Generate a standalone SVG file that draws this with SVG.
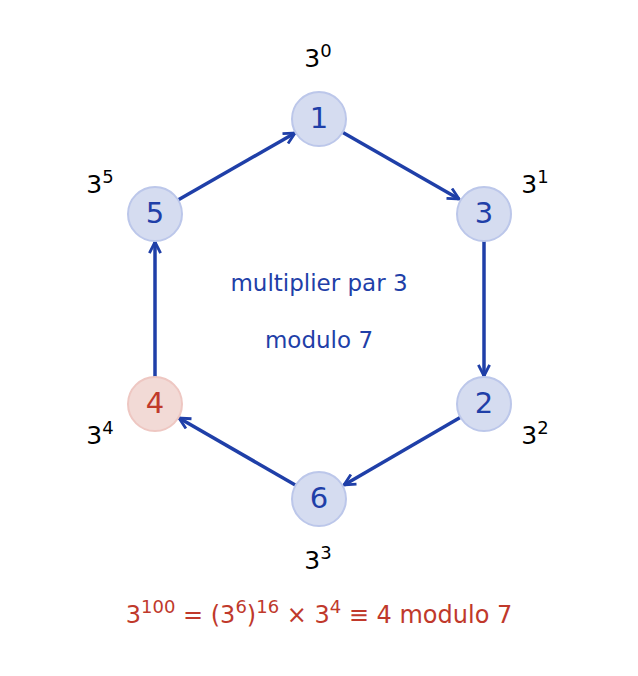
<svg xmlns="http://www.w3.org/2000/svg" width="638" height="676" viewBox="0 0 638 676">
<style>
text{font-family:"DejaVu Sans","Noto Sans",sans-serif;text-anchor:middle}
.n{fill:#d5dcf0;stroke:#bcc7ea;stroke-width:2}
.r{fill:#f2dad6;stroke:#eec7c2;stroke-width:2}
.lb{font-size:29px;fill:#1f3fa8;dominant-baseline:central}
.e{font-size:25px;fill:#000}
.s{font-size:18px}
.c{stroke:#1f3fa8;stroke-width:3.5;fill:none;marker-end:url(#a)}
</style>
<defs><marker id="a" viewBox="0 0 10 10" refX="9" refY="5" markerWidth="4" markerHeight="4" orient="auto" markerUnits="strokeWidth"><path d="M1,1 L9,5 L1,9" fill="none" stroke="#1f3fa8" stroke-width="2" stroke-linejoin="miter"/></marker></defs>
<rect width="638" height="676" fill="#fff"/>
<g id="connectors">
<line class="c" x1="342" y1="132" x2="459" y2="199"/>
<line class="c" x1="484" y1="240" x2="484" y2="376"/>
<line class="c" x1="461" y1="417" x2="344" y2="485"/>
<line class="c" x1="297" y1="486" x2="179" y2="418"/>
<line class="c" x1="155" y1="378" x2="155" y2="242"/>
<line class="c" x1="178" y1="200" x2="295" y2="133"/>
</g>
<g id="n1"><circle class="n" cx="319" cy="119" r="27"/><text class="lb" x="319" y="118">1</text></g>
<g id="n3"><circle class="n" cx="484" cy="214" r="27"/><text class="lb" x="484" y="213">3</text></g>
<g id="n2"><circle class="n" cx="484" cy="404" r="27"/><text class="lb" x="484" y="403">2</text></g>
<g id="n6"><circle class="n" cx="319" cy="499" r="27"/><text class="lb" x="319" y="498">6</text></g>
<g id="n4"><circle class="r" cx="155" cy="404" r="27"/><text class="lb" x="155" y="403" fill="#c0392b" style="fill:#c0392b">4</text></g>
<g id="n5"><circle class="n" cx="155" cy="214" r="27"/><text class="lb" x="155" y="213">5</text></g>
<g id="exps">
<text class="e" x="318" y="67">3<tspan class="s" dy="-10">0</tspan></text>
<text class="e" x="535" y="193">3<tspan class="s" dy="-10">1</tspan></text>
<text class="e" x="535" y="444">3<tspan class="s" dy="-10">2</tspan></text>
<text class="e" x="318" y="569">3<tspan class="s" dy="-10">3</tspan></text>
<text class="e" x="100" y="444">3<tspan class="s" dy="-10">4</tspan></text>
<text class="e" x="100" y="193">3<tspan class="s" dy="-10">5</tspan></text>
</g>
<text x="319" y="291" font-size="23" fill="#1f3fa8">multiplier par 3</text>
<text x="319" y="348" font-size="23" fill="#1f3fa8">modulo 7</text>
<text x="319" y="623" font-size="24" fill="#c0392b">3<tspan class="s" dy="-10">100</tspan><tspan dy="10"> = (3</tspan><tspan class="s" dy="-10">6</tspan><tspan dy="10">)</tspan><tspan class="s" dy="-10">16</tspan><tspan dy="10"> × 3</tspan><tspan class="s" dy="-10">4</tspan><tspan dy="10"> ≡ 4  modulo 7</tspan></text>
</svg>
